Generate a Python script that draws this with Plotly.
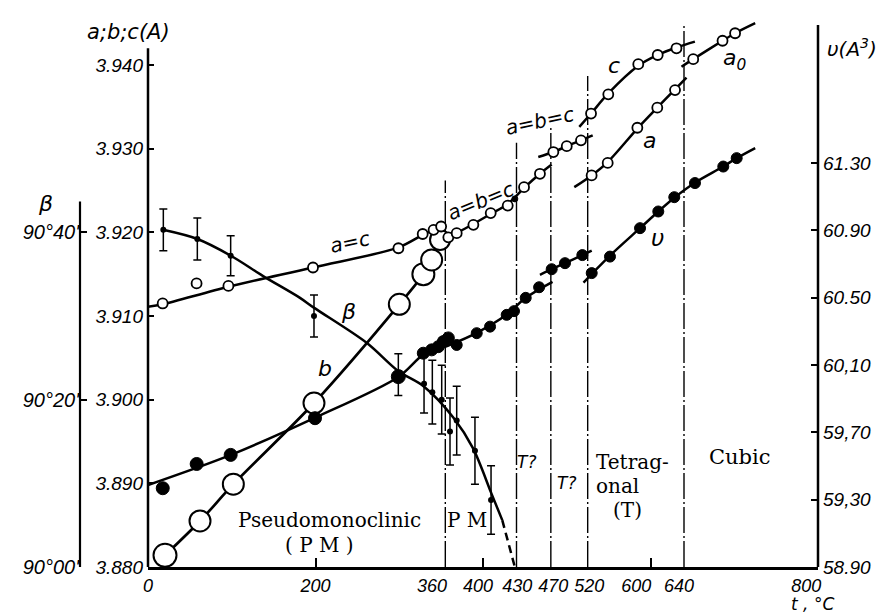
import plotly.graph_objects as go

# ---------------- data ----------------
# x: temperature t, degC ; lattice parameters in Angstrom ; beta in arc-minutes above 90 deg ; v in A^3

# phase boundaries (position on axis) and their labels
boundary_t = [355, 440, 481, 525, 640]
boundary_top = [3.9262, 3.9307, 3.9328, 3.9387, 3.9450]

x_label_pos = [0, 200, 339, 394, 441, 484, 527, 583, 634, 786]
x_ticktext = ["0", "200", "360", "400", "430", "470", "520", "600", "640", "800"]
x_minor_ticks = [200, 400, 600]

abc_ticks = [3.880, 3.890, 3.900, 3.910, 3.920, 3.930, 3.940]
abc_ticktext = ["3.880", "3.890", "3.900", "3.910", "3.920", "3.930", "3.940"]
v_ticks = [58.90, 59.30, 59.70, 60.10, 60.50, 60.90, 61.30]
v_ticktext = ["58.90", "59,30", "59,70", "60,10", "60.50", "60.90", "61.30"]
beta_ticks = [0, 20, 40]
beta_ticktext = ["90°00'", "90°20'", "90°40'"]

# a = c (pseudomonoclinic)
ac_t = [17.5, 96, 197, 299, 328, 341, 350]
ac_val = [3.9115, 3.9136, 3.9158, 3.9181, 3.9198, 3.9203, 3.9207]
ac_out_t = [58]
ac_out_val = [3.9139]
ac_curve_t = [0, 17.5, 96, 197, 299, 328, 341, 355]
ac_curve_val = [3.9111, 3.9114, 3.9135, 3.9158, 3.9182, 3.9197, 3.9203, 3.9211]

# a = b = c  (360-470)
abc1_t = [358.6, 368.6, 388.5, 409.2, 429.5, 449, 468]
abc1_val = [3.9194, 3.9199, 3.9209, 3.9223, 3.9232, 3.9254, 3.9270]
abc1_dot_t = [438]
abc1_dot_val = [3.9240]
abc1_curve_t = [345, 358.6, 368.6, 388.5, 409.2, 429.5, 449, 468, 482]
abc1_curve_val = [3.9187, 3.9193, 3.9199, 3.9210, 3.9222, 3.9234, 3.9253, 3.9270, 3.9281]

# a = b = c  (470-520)
abc2_t = [484, 500, 517]
abc2_val = [3.9296, 3.9303, 3.9310]
abc2_curve_t = [466, 484, 500, 517, 531]
abc2_curve_val = [3.9290, 3.9296, 3.9303, 3.9310, 3.9316]

# tetragonal c
c_t = [529, 549.6, 585.4, 608.6, 631]
c_val = [3.9342, 3.9365, 3.9401, 3.9412, 3.9420]
c_curve_t = [515, 529, 549.6, 585.4, 608.6, 631, 653]
c_curve_val = [3.9326, 3.9342, 3.9366, 3.9399, 3.9412, 3.9421, 3.9428]

# tetragonal a
a_t = [529.7, 548.9, 584.3, 608.1, 629.3]
a_val = [3.9268, 3.9283, 3.9325, 3.9349, 3.9370]
a_curve_t = [509, 529.7, 548.9, 584.3, 608.1, 629.3, 643]
a_curve_val = [3.9254, 3.9268, 3.9284, 3.9324, 3.9349, 3.9371, 3.9385]

# cubic a0
a0_t = [651, 686, 701]
a0_val = [3.9407, 3.9429, 3.9438]
a0_curve_t = [637, 651, 686, 701, 725]
a0_curve_val = [3.9398, 3.9407, 3.9429, 3.9438, 3.9450]

# b (pseudomonoclinic)
b_t = [20.3, 62.1, 101.9, 198.2, 300.1, 328.8, 338.7, 348.7]
b_val = [3.8814, 3.8855, 3.8899, 3.8996, 3.9114, 3.9150, 3.9167, 3.9191]

# unit cell volume v
v1_t = [17.6, 58.1, 98.7, 199.4, 298.9, 328.7, 338.7, 346.6, 352.6, 358.6]
v1_val = [59.368, 59.512, 59.566, 59.784, 60.031, 60.170, 60.190, 60.209, 60.239, 60.261]
v2_t = [368.6, 392.5, 408.4, 428.3, 437, 451, 467]
v2_val = [60.219, 60.289, 60.328, 60.398, 60.420, 60.499, 60.562]
v12_curve_t = [0, 99, 199, 299, 330, 360, 392.5, 428, 451, 483]
v12_curve_val = [59.387, 59.566, 59.786, 60.029, 60.166, 60.219, 60.291, 60.398, 60.499, 60.594]
v3_t = [482, 497.9, 518.6]
v3_val = [60.669, 60.705, 60.753]
v3_curve_t = [468, 482, 497.9, 518.6, 529.8]
v3_curve_val = [60.636, 60.669, 60.705, 60.753, 60.780]
v4_t = [529.8, 551.6, 587.5, 609.3, 628.4, 653.1, 686.9, 702.9]
v4_val = [60.646, 60.744, 60.913, 61.012, 61.097, 61.181, 61.279, 61.329]
v4_curve_t = [520, 529.8, 551.6, 587.5, 609.3, 628.4, 653.1, 686.9, 702.9, 725]
v4_curve_val = [60.590, 60.640, 60.750, 60.913, 61.012, 61.094, 61.183, 61.279, 61.329, 61.389]

# monoclinic angle beta (arc-minutes over 90 deg) with error bars
beta_t = [18.3, 58.9, 98.7, 198.2, 298.9, 329.6, 339.5, 350.7, 360.6, 368.6, 390.4, 409.6]
beta_val = [40.3, 39.2, 37.2, 30.0, 23.0, 21.9, 20.9, 20.0, 16.2, 17.5, 13.9, 8.0]
beta_err = [2.5, 2.5, 2.4, 2.5, 2.5, 3.5, 3.8, 4.1, 4.0, 4.1, 4.0, 4.1]
beta_curve_t = [18, 59, 99, 137, 181, 198, 261, 299, 329, 365, 388, 410, 423]
beta_curve_val = [40.3, 39.2, 37.2, 34.8, 32.2, 31.0, 26.8, 23.4, 21.6, 17.8, 14.2, 8.8, 5.6]
beta_dash_t = [423, 438]
beta_dash_val = [5.6, 0.0]

# ---------------- figure ----------------
ABC_RANGE = [3.880, 3.94562]
V_RANGE = [58.90, 62.1615]
BETA_RANGE = [0, 65.62]

fig = go.Figure()
BLK = "black"


def curve(x, y, axis="y", width=2.5, dash="solid", shape="spline"):
    fig.add_trace(go.Scatter(x=x, y=y, mode="lines", yaxis=axis, hoverinfo="skip",
                             line=dict(color=BLK, width=width, dash=dash, shape=shape, smoothing=0.9)))


def points(x, y, axis="y", size=10, fill="white", lw=1.8, symbol="circle"):
    fig.add_trace(go.Scatter(x=x, y=y, mode="markers", yaxis=axis, hoverinfo="skip",
                             marker=dict(symbol=symbol, size=size, color=fill, opacity=1,
                                         line=dict(color=BLK, width=lw))))


# phase boundary lines
for bt, top in zip(boundary_t, boundary_top):
    fig.add_trace(go.Scatter(x=[bt, bt], y=[ABC_RANGE[0], top], mode="lines", hoverinfo="skip",
                             line=dict(color=BLK, width=1.4, dash="26px,3px,2px,3px")))

# curves
curve(ac_curve_t, ac_curve_val)
curve(abc1_curve_t, abc1_curve_val)
curve(abc2_curve_t, abc2_curve_val)
curve(c_curve_t, c_curve_val)
curve(a_curve_t, a_curve_val)
curve(a0_curve_t, a0_curve_val)
curve(b_t, b_val, width=2.7)
curve(v12_curve_t, v12_curve_val, axis="y2")
curve(v3_curve_t, v3_curve_val, axis="y2")
curve(v4_curve_t, v4_curve_val, axis="y2")
curve(beta_curve_t, beta_curve_val, axis="y3")
curve(beta_dash_t, beta_dash_val, axis="y3", dash="8px,5px", shape="linear")

# beta points with error bars
fig.add_trace(go.Scatter(x=beta_t, y=beta_val, mode="markers", yaxis="y3", hoverinfo="skip",
                         marker=dict(symbol="circle", size=6, color=BLK, opacity=1),
                         error_y=dict(type="data", array=beta_err, visible=True,
                                      color=BLK, thickness=1.5, width=4)))

# v points
points(v1_t, v1_val, axis="y2", size=[13, 13, 13, 13, 14, 12, 12, 12, 12, 12], fill=BLK, lw=1)
points(v2_t, v2_val, axis="y2", size=11, fill=BLK, lw=1)
points(v3_t, v3_val, axis="y2", size=11, fill=BLK, lw=1)
points(v4_t, v4_val, axis="y2", size=11, fill=BLK, lw=1)

# lattice parameter points
points(b_t, b_val, size=[23, 21, 21, 21, 21, 22, 21, 20], lw=2)
points(ac_t, ac_val)
points(ac_out_t, ac_out_val)
points(abc1_t, abc1_val)
points(abc1_dot_t, abc1_dot_val, size=6, fill=BLK, lw=1)
points(abc2_t, abc2_val)
points(c_t, c_val)
points(a_t, a_val)
points(a0_t, a0_val)

# ---------------- layout ----------------
OFF = 8  # page body margin offset
W, H = 886 - OFF, 616 - OFF
L, R, T, B = 40 - OFF, 68, 18 - OFF, 49
pw = W - L - R
ph = H - T - B
x_left = (148 - OFF - L) / pw
beta_pos = (80 - OFF - L) / pw

NUM_FONT = dict(family="Liberation Sans", size=19, color=BLK, style="italic")
BETA_FONT = dict(family="Liberation Sans", size=20, color=BLK, style="italic")
X_FONT = dict(family="Liberation Sans", size=18, color=BLK, style="italic")

fig.update_layout(
    width=W, height=H, margin=dict(l=L, r=R, t=T, b=B),
    paper_bgcolor="white", plot_bgcolor="white", showlegend=False,
    xaxis=dict(domain=[x_left, 1], range=[0, 800], tickmode="array", tickvals=x_label_pos,
               ticktext=x_ticktext, tickangle=0, ticks="inside", ticklen=0, tickcolor=BLK,
               minor=dict(tickmode="array", tickvals=x_minor_ticks, ticks="inside", ticklen=9,
                          tickwidth=1.5, tickcolor=BLK, showgrid=False),
               showline=True, linecolor=BLK, linewidth=2.5, showgrid=False, zeroline=False,
               tickfont=X_FONT, ticklabelstandoff=1),
    yaxis=dict(range=ABC_RANGE, tickvals=abc_ticks, ticktext=abc_ticktext, ticks="inside",
               ticklen=6, tickwidth=1.5, tickcolor=BLK, showline=False, showgrid=False,
               zeroline=False, tickfont=NUM_FONT, ticklabelstandoff=4),
    yaxis2=dict(range=V_RANGE, overlaying="y", side="right", anchor="x", tickvals=v_ticks,
                ticktext=v_ticktext, ticks="inside", ticklen=7, tickwidth=1.5, tickcolor=BLK,
                showline=False, showgrid=False, zeroline=False, tickfont=NUM_FONT,
                ticklabelstandoff=4),
    yaxis3=dict(range=BETA_RANGE, overlaying="y", side="left", anchor="free", position=beta_pos,
                tickvals=beta_ticks, ticktext=beta_ticktext, ticks="inside", ticklen=6,
                tickwidth=1.5, tickcolor=BLK, showline=False, showgrid=False, zeroline=False,
                tickfont=BETA_FONT, ticklabelstandoff=1),
)

# axis lines of limited length
fig.add_shape(type="line", xref="paper", yref="y", x0=x_left, x1=x_left, y0=3.880, y1=3.942,
              line=dict(color=BLK, width=2.5))
fig.add_shape(type="line", xref="paper", yref="y3", x0=beta_pos, x1=beta_pos, y0=0, y1=43.7,
              line=dict(color=BLK, width=2.2))
fig.add_shape(type="line", xref="paper", yref="y2", x0=1, x1=1, y0=58.90, y1=62.12,
              line=dict(color=BLK, width=2.5))

# ---------------- labels ----------------
def ann(text, x, y, size=19, family="Liberation Sans", style="italic", angle=0, xref="x", yref="y"):
    fig.add_annotation(text=text, x=x, y=y, xref=xref, yref=yref, showarrow=False,
                       xanchor="center", yanchor="middle", textangle=angle,
                       font=dict(family=family, size=size, color=BLK, style=style))

SERIF = "DejaVu Serif"
SANS = "DejaVu Sans"
ann("a=c", 241, 3.9188, size=20, family=SANS, angle=-12)
ann("a=b=c", 397, 3.9237, size=20, family=SANS, angle=-22)
ann("a=b=c", 467, 3.9333, size=20, family=SANS, angle=-12)
ann("c", 557, 3.9400, size=22, family=SANS)
ann("a", 599, 3.9310, size=22, family=SANS)
ann("a<sub>0</sub>", 700, 3.9407, size=22, family=SANS)
ann("υ", 608, 3.9193, size=23, family=SANS)
ann("β", 239, 3.9105, size=22, family=SANS)
ann("b", 211, 3.9037, size=22, family=SANS)
ann("T?", 452, 3.8926, size=17, family=SANS)
ann("T?", 500, 3.8900, size=17, family=SANS)
ann("Pseudomonoclinic", 217, 3.8856, size=20, family=SERIF, style="normal")
ann("( P M )", 205, 3.8826, size=20, family=SERIF, style="normal")
ann("P M", 381, 3.8856, size=20, family=SERIF, style="normal")
ann("Tetrag-", 578, 3.8925, size=20, family=SERIF, style="normal")
ann("onal", 561, 3.8897, size=20, family=SERIF, style="normal")
ann("(T)", 573, 3.8868, size=20, family=SERIF, style="normal")
ann("Cubic", 707, 3.8932, size=21, family=SERIF, style="normal")

# outside labels (paper coordinates, given as window pixels)
def px(xp):
    return (xp - OFF - L) / pw


def py(yp):
    return (616 - B - yp) / ph


ann("a;b;c(A)", px(128), py(32), size=21, family=SANS, xref="paper", yref="paper")
ann("β", px(45), py(203), size=22, family=SANS, xref="paper", yref="paper")
ann("υ(A<sup>3</sup>)", px(852), py(48), size=20, family=SANS, xref="paper", yref="paper")
ann("t , °C", px(812), py(604), size=17, family=SANS, xref="paper", yref="paper")

fig.write_html("out.html")
